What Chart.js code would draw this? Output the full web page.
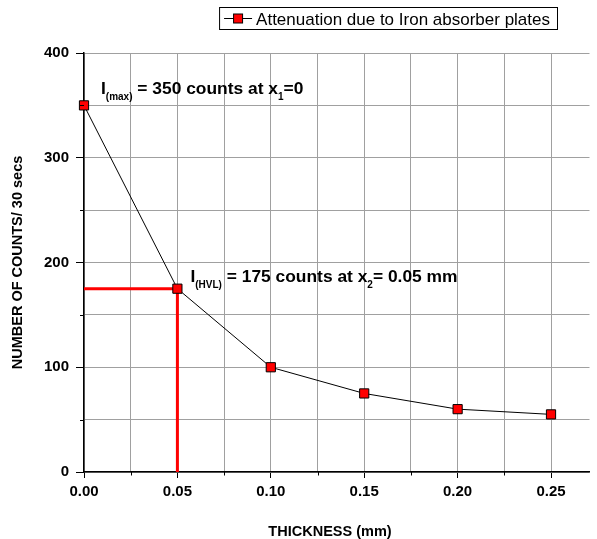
<!DOCTYPE html>
<html>
<head>
<meta charset="utf-8">
<script src="https://cdn.jsdelivr.net/npm/chart.js@4.4.0/dist/chart.umd.min.js"></script>
<style>
  html, body { margin: 0; padding: 0; background: #fff; }
  #wrap { width: 597px; height: 539px; }
</style>
</head>
<body>
<div id="wrap"><canvas id="chart" width="597" height="539"></canvas></div>
<script>
// data
const thickness = [0.00, 0.05, 0.10, 0.15, 0.20, 0.25];
const counts = [350, 175, 100, 75, 60, 55];
const hvlX = [0.00, 0.05, 0.05];
const hvlY = [175, 175, 0];
const xTickLabels = ['0.00', '0.05', '0.10', '0.15', '0.20', '0.25'];
const yTickLabels = ['0', '100', '200', '300', '400'];
const legendLabel = 'Attenuation due to Iron absorber plates';
const xTitle = 'THICKNESS (mm)';
const noteMax = [['I', 0], ['(max)', 1], [' = 350 counts at x', 0], ['1', 1], ['=0', 0]];
const noteHvl = [['I', 0], ['(HVL)', 1], [' = 175 counts at x', 0], ['2', 1], ['= 0.05 mm', 0]];

const FONT = '"Liberation Sans", Arial, sans-serif';

function drawRich(ctx, parts, x, y) {
  parts.forEach(([t, sub]) => {
    ctx.font = sub ? `bold 10px ${FONT}` : `bold 17.4px ${FONT}`;
    ctx.fillText(t, x, sub ? y + 6 : y);
    x += ctx.measureText(t).width;
  });
}

const labelFor = (list, v) => list.find(l => Math.abs(parseFloat(l) - v) < 1e-6) || '';
const majorTick = list => c => (c.tick && labelFor(list, c.tick.value) !== '') ? '#000' : 'rgba(0,0,0,0)';

// legend box, notes, minor ticks and x title
const overlay = {
  id: 'overlay',
  afterDatasetsDraw(chart) {
    const { ctx, scales: { x, y } } = chart;
    ctx.save();

    // short minor ticks
    ctx.strokeStyle = '#000';
    ctx.lineWidth = 1;
    ctx.beginPath();
    x.ticks.forEach(t => {
      if (labelFor(xTickLabels, t.value) !== '') return;
      const px = Math.round(x.getPixelForValue(t.value)) + 0.5;
      ctx.moveTo(px, y.bottom);
      ctx.lineTo(px, y.bottom + 3.5);
    });
    y.ticks.forEach(t => {
      if (labelFor(yTickLabels, t.value) !== '') return;
      const py = Math.round(y.getPixelForValue(t.value)) + 0.5;
      ctx.moveTo(x.left - 4, py);
      ctx.lineTo(x.left, py);
    });
    ctx.stroke();

    ctx.fillStyle = '#000';
    ctx.textBaseline = 'alphabetic';
    drawRich(ctx, noteMax, x.getPixelForValue(thickness[0]) + 17, y.getPixelForValue(counts[0]) - 11);
    drawRich(ctx, noteHvl, x.getPixelForValue(thickness[1]) + 13, y.getPixelForValue(counts[1]) - 7);

    ctx.font = `bold 14.5px ${FONT}`;
    ctx.textAlign = 'center';
    ctx.textBaseline = 'middle';
    ctx.fillText(xTitle, 330, 532);
    ctx.textAlign = 'left';
    ctx.textBaseline = 'alphabetic';

    ctx.font = `17px ${FONT}`;
    const tw = ctx.measureText(legendLabel).width;
    const right = 557, top = 7, bottom = 29;
    const textX = 550 - tw;
    const lineL = textX - 32, lineR = textX - 4;
    ctx.fillText(legendLabel, textX, 25);
    ctx.strokeRect(lineL - 5 + 0.5, top + 0.5, right - lineL + 5, bottom - top);
    ctx.beginPath();
    ctx.moveTo(lineL, 18.5);
    ctx.lineTo(lineR, 18.5);
    ctx.stroke();
    const mx = (lineL + lineR) / 2;
    ctx.fillStyle = '#ff0000';
    ctx.fillRect(mx - 4.5, 14, 9, 9);
    ctx.strokeRect(mx - 4.5, 14, 9, 9);
    ctx.restore();
  }
};

new Chart(document.getElementById('chart'), {
  type: 'scatter',
  data: {
    datasets: [
      {
        label: legendLabel,
        data: thickness.map((t, i) => ({ x: t, y: counts[i] })),
        showLine: true,
        borderColor: '#000',
        borderWidth: 1,
        pointStyle: 'rect',
        pointRadius: 6.5,
        pointHoverRadius: 6.5,
        pointBackgroundColor: '#ff0000',
        pointBorderColor: '#000',
        pointBorderWidth: 1,
        clip: false
      },
      {
        label: 'HVL',
        data: hvlX.map((t, i) => ({ x: t, y: hvlY[i] })),
        showLine: true,
        borderColor: '#ff0000',
        borderWidth: 3,
        pointRadius: 0,
        clip: false
      }
    ]
  },
  options: {
    responsive: false,
    devicePixelRatio: 1,
    animation: false,
    layout: { padding: { top: 53, right: 0, left: 0, bottom: 0 } },
    plugins: {
      legend: { display: false },
      tooltip: { enabled: false }
    },
    scales: {
      x: {
        type: 'linear',
        min: 0,
        max: 0.2706,
        afterFit: s => { s.height = 67; },
        border: { color: '#000', width: 1.5 },
        grid: { color: '#a0a0a0', tickColor: majorTick(xTickLabels), tickLength: 6 },
        ticks: {
          stepSize: 0.025,
          includeBounds: false,
          autoSkip: false,
          maxRotation: 0,
          color: '#000',
          padding: 5,
          font: { family: FONT, size: 15, weight: 'bold' },
          callback: v => labelFor(xTickLabels, v)
        }
      },
      y: {
        min: 0,
        max: 400,
        afterFit: s => { s.width = 84; },
        border: { color: '#000', width: 1.5 },
        grid: { color: '#a0a0a0', tickColor: majorTick(yTickLabels), tickLength: 8 },
        ticks: {
          stepSize: 50,
          color: '#000',
          padding: 7,
          font: { family: FONT, size: 15, weight: 'bold' },
          callback: v => labelFor(yTickLabels, v)
        },
        title: {
          display: true,
          text: 'NUMBER OF COUNTS/ 30 secs',
          color: '#000',
          font: { family: FONT, size: 14.5, weight: 'bold', lineHeight: 1 },
          padding: { top: 11, bottom: 0 }
        }
      }
    }
  },
  plugins: [overlay]
});
</script>
</body>
</html>
